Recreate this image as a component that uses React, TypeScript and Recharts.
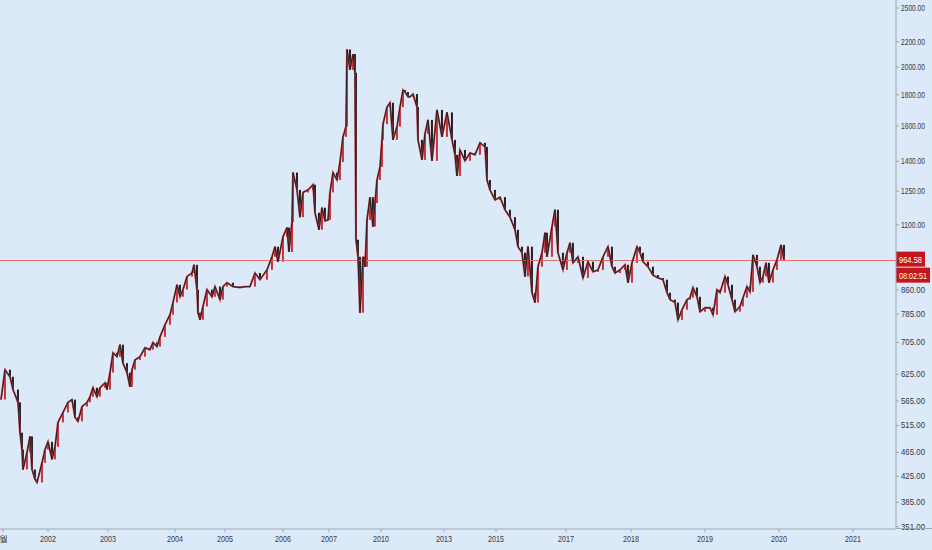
import { ComposedChart, Bar, Line, XAxis, YAxis, ReferenceLine } from "recharts";

// bar index (chart slot) and weekly close
const barIdx = [
  1, 5, 10, 13, 18, 20, 22, 23, 27, 30, 32, 35, 37, 42, 45, 48, 52, 55, 58, 63,
  68, 72, 75, 78, 82, 87, 90, 93, 97, 100, 105, 107, 110, 113, 117, 120, 123, 127, 130, 132,
  135, 140, 145, 150, 153, 157, 160, 165, 170, 173, 177, 180, 183, 187, 192, 194, 197, 198, 200, 203,
  207, 212, 215, 220, 223, 227, 233, 240, 245, 250, 255, 260, 267, 272, 275, 278, 283, 287, 289, 292,
  293, 297, 300, 303, 308, 313, 315, 319, 322, 325, 328, 330, 333, 337, 340, 343, 346, 347, 350, 353,
  355, 356, 358, 360, 363, 365, 367, 370, 373, 375, 377, 380, 382, 383, 387, 390, 393, 397, 400, 403,
  405, 408, 410, 413, 417, 418, 422, 425, 428, 432, 437, 442, 447, 452, 455, 457, 460, 465, 470, 475,
  480, 485, 487, 490, 495, 500, 505, 510, 515, 518, 522, 525, 528, 532, 535, 538, 542, 545, 547, 552,
  555, 558, 563, 567, 570, 573, 578, 583, 588, 593, 598, 603, 608, 612, 615, 620, 625, 628, 632, 637,
  640, 643, 648, 653, 658, 663, 667, 670, 675, 678, 682, 687, 690, 693, 697, 700, 705, 710, 713, 717,
  720, 725, 728, 732, 735, 740, 743, 747, 750, 753, 757, 760, 763, 766, 769, 773, 777, 781, 784,
];

const closes = [
  568, 636, 619, 590, 562, 501, 470, 436, 465, 494, 436, 420, 415, 447, 470, 484, 453, 475, 521, 541,
  562, 568, 531, 523, 553, 562, 574, 594, 574, 594, 605, 590, 629, 678, 668, 699, 652, 629, 596, 636,
  660, 668, 691, 686, 705, 694, 720, 754, 783, 820, 877, 838, 861, 905, 917, 946, 861, 789, 768, 808,
  861, 838, 871, 829, 871, 884, 871, 868, 871, 871, 917, 894, 928, 975, 1013, 957, 1052, 1089, 993, 1112,
  1341, 1256, 1133, 1244, 1256, 1281, 1152, 1080, 1174, 1117, 1121, 1244, 1341, 1304, 1396, 1535, 1596, 2137, 1978, 2100,
  1957, 1040, 975, 789, 975, 939, 1121, 1222, 1093, 1195, 1304, 1370, 1518, 1611, 1718, 1747, 1518, 1596, 1718, 1833,
  1819, 1786, 1786, 1805, 1718, 1518, 1407, 1553, 1637, 1402, 1700, 1535, 1684, 1518, 1434, 1324, 1461, 1402, 1445, 1434,
  1501, 1478, 1304, 1256, 1209, 1222, 1165, 1133, 1080, 1013, 990, 905, 1013, 851, 820, 939, 990, 1068, 975, 1093,
  1165, 990, 928, 990, 1028, 953, 975, 900, 957, 921, 928, 975, 1013, 939, 917, 928, 946, 884, 953, 1013,
  990, 957, 939, 910, 900, 894, 851, 829, 820, 768, 798, 829, 835, 868, 838, 792, 804, 804, 783, 861,
  851, 905, 877, 829, 792, 808, 835, 871, 854, 982, 939, 884, 905, 953, 884, 928, 964, 1020, 964.58,
];

const priceTicks = [2500, 2200, 2000, 1800, 1600, 1400, 1250, 1100, 860, 785, 705, 625, 565, 515, 465, 425, 385, 351];
const yearTickIdx = [3, 48, 108, 175, 225, 283, 329, 381, 444, 496, 566, 631, 705, 779, 853];
const yearLabels = ["월", "2002", "2003", "2004", "2005", "2006", "2007", "2010", "2013", "2015", "2017", "2018", "2019", "2020", "2021"];

const lastPrice = 964.58;
const countdown = "08:02:51";

const BG = "#dce9f9";
const UP = "#c9343c";
const DOWN = "#1f1f1f";
const AXIS = "#9ca8b4";
const LABEL_RED = "#c4161c";
const PRICE_LINE = "#e0706b";
const TEXT = "#3a3a3a";
const FONT = "'Liberation Sans', Arial, sans-serif";

const data = barIdx.map((b, i) => {
  const open = i === 0 ? closes[0] : closes[i - 1];
  const close = closes[i];
  return { bar: b, open, close, range: [Math.min(open, close), Math.max(open, close)] };
});

function Candle(props: any) {
  const { x, y, width, height, payload } = props;
  if (x == null || y == null || payload.open === payload.close) return <g />;
  const up = payload.close >= payload.open;
  const cx = x + width / 2;
  return <rect x={cx - 1} y={y} width={2} height={Math.max(height, 1)} fill={up ? UP : DOWN} />;
}

// squeeze labels to the narrow look of the original
function PriceTick(props: any) {
  const { x, y, payload } = props;
  return (
    <text x={x} y={y + 3} fill={TEXT} fontSize={8.5} fontFamily={FONT} textLength={24} lengthAdjust="spacingAndGlyphs">
      {payload.value.toFixed(2)}
    </text>
  );
}

function YearTick(props: any) {
  const { x, y, payload } = props;
  const label = yearLabels[yearTickIdx.indexOf(payload.value)] ?? "";
  const isYear = /^\d{4}$/.test(label);
  return (
    <text
      x={x}
      y={y + 9}
      fill={TEXT}
      fontSize={8.5}
      fontFamily={FONT}
      textAnchor="middle"
      textLength={isYear ? 16 : undefined}
      lengthAdjust="spacingAndGlyphs"
    >
      {label}
    </text>
  );
}

function PriceLine(props: any) {
  const { x1, y1, x2, y2 } = props;
  if (x1 == null) return <g />;
  const yy = Math.round(y1) + 0.5;
  return <line x1={x1} y1={yy} x2={x2} y2={Math.round(y2) + 0.5} stroke={PRICE_LINE} strokeWidth={1} />;
}

function PriceTag(props: any) {
  const vb = props.viewBox;
  if (!vb) return null;
  const x = vb.x + vb.width;
  const y = vb.y;
  return (
    <g>
      <rect x={x} y={y - 8} width={29} height={15} fill={LABEL_RED} />
      <text x={x + 3} y={y + 3} fill="#fff" fontSize={8.5} fontFamily={FONT} textLength={23} lengthAdjust="spacingAndGlyphs">
        {lastPrice.toFixed(2)}
      </text>
      <rect x={x} y={y + 8} width={34} height={15} fill={LABEL_RED} />
      <text x={x + 3} y={y + 19} fill="#fff" fontSize={8.5} fontFamily={FONT} textLength={28} lengthAdjust="spacingAndGlyphs">
        {countdown}
      </text>
    </g>
  );
}

export default function App() {
  return (
    <div style={{ position: "absolute", left: 0, top: 0, width: 932, height: 550, background: BG }}>
      <ComposedChart width={932} height={550} data={data} margin={{ top: 0, right: 0, bottom: 0, left: 0 }}>
        <XAxis
          dataKey="bar"
          type="number"
          domain={[0, 896]}
          ticks={yearTickIdx}
          interval={0}
          height={21}
          stroke={AXIS}
          tickSize={3}
          tickMargin={1}
          tick={<YearTick />}
          allowDataOverflow
        />
        <YAxis
          orientation="right"
          scale="log"
          domain={[348, 2577]}
          allowDataOverflow
          ticks={priceTicks}
          interval={0}
          width={36}
          stroke={AXIS}
          tickSize={3}
          tickMargin={2}
          tick={<PriceTick />}
        />
        <ReferenceLine y={lastPrice} stroke={PRICE_LINE} shape={<PriceLine />} label={<PriceTag />} />
        <Line
          dataKey="close"
          type="linear"
          stroke="#b8383f"
          strokeWidth={1.9}
          dot={false}
          activeDot={false}
          isAnimationActive={false}
        />
        <Line
          dataKey="close"
          type="linear"
          stroke="#2a1f20"
          strokeWidth={1}
          dot={false}
          activeDot={false}
          isAnimationActive={false}
        />
        <Bar dataKey="range" barSize={2} shape={<Candle />} isAnimationActive={false} />
      </ComposedChart>
      <div style={{ position: "absolute", left: 896, top: 528, width: 36, height: 1, background: AXIS }} />
    </div>
  );
}
